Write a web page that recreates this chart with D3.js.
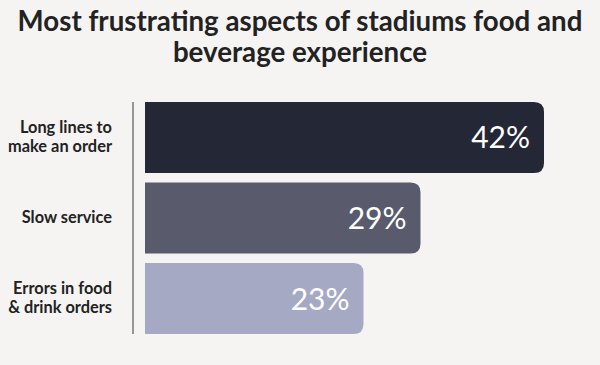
<!DOCTYPE html>
<html><head><meta charset="utf-8">
<script src="https://cdn.jsdelivr.net/npm/d3@7"></script>
<style>html,body{margin:0;padding:0;background:#f5f4f2;}svg{display:block;}</style>
</head><body>
<script>
const categories = [["Long lines to","make an order"],["Slow service"],["Errors in food","& drink orders"]];
const values = [42, 29, 23];
const colors = ["#242736", "#595b6d", "#a6a9c3"];
const titleLines = ["Most frustrating aspects of stadiums food and", "beverage experience"];

const W = 600, H = 365;
const svg = d3.select("body").append("svg").attr("width", W).attr("height", H);
svg.append("rect").attr("width", W).attr("height", H).attr("fill", "#f5f4f2");

const font = "Lato, 'Open Sans', sans-serif";
const title = svg.append("text").attr("text-anchor", "middle").attr("fill", "#222")
  .attr("font-family", font).attr("font-weight", 700).attr("font-size", 26);
title.selectAll("tspan").data(titleLines).join("tspan")
  .attr("x", W / 2).attr("y", (d, i) => 31 + i * 31).text(d => d);
const t0 = title.select("tspan").node().getComputedTextLength();
title.attr("font-size", Math.min(26 * 565 / t0, 30));

const x = d3.scaleLinear().domain([0, 42]).range([145, 544]);
const y = d3.scaleBand().domain(d3.range(values.length)).range([102, 334]).paddingInner(0.12).paddingOuter(0);

const r = 10;
function barPath(i) {
  const x0 = x(0), x1 = x(values[i]), y0 = y(i), y1 = y(i) + y.bandwidth();
  return `M${x0},${y0}H${x1 - r}Q${x1},${y0} ${x1},${y0 + r}V${y1 - r}Q${x1},${y1} ${x1 - r},${y1}H${x0}Z`;
}
svg.selectAll("path.bar").data(values).join("path").attr("class", "bar")
  .attr("d", (d, i) => barPath(i)).attr("fill", (d, i) => colors[i]);

svg.selectAll("text.val").data(values).join("text").attr("class", "val")
  .attr("x", d => x(d) - 14).attr("y", (d, i) => y(i) + y.bandwidth() / 2 + 11)
  .attr("text-anchor", "end").attr("fill", "#fff").attr("font-family", font)
  .attr("font-size", 30).attr("font-weight", 400).text(d => d + "%");

svg.append("line").attr("x1", 133).attr("x2", 133).attr("y1", 102).attr("y2", 334)
  .attr("stroke", "#777").attr("stroke-width", 1.5);

const lab = svg.selectAll("text.lab").data(categories).join("text").attr("class", "lab")
  .attr("text-anchor", "end").attr("fill", "#222").attr("font-family", font)
  .attr("font-weight", 700).attr("font-size", 13.5);
lab.each(function (lines, i) {
  const cy = y(i) + y.bandwidth() / 2;
  const n = lines.length;
  d3.select(this).selectAll("tspan").data(lines).join("tspan")
    .attr("x", 112).attr("y", (d, j) => cy + (j - (n - 1) / 2) * 19 + 5).text(d => d);
});
// fit label size so "make an order" matches reference width (~104px)
const ref = lab.filter((d, i) => i === 0).selectAll("tspan").filter((d, j) => j === 1).node();
const lw = ref.getComputedTextLength();
lab.attr("font-size", Math.min(13.5 * 104 / lw, 17));
</script>
</body></html>
